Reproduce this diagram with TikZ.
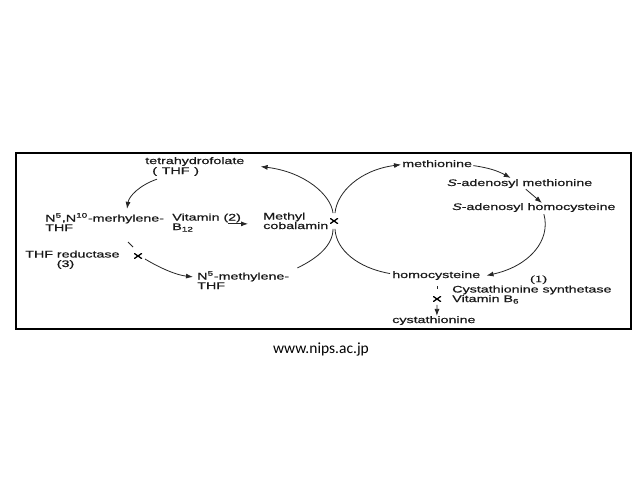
\documentclass[tikz,border=0pt]{standalone}
\usepackage{fontspec}
\setmainfont{Liberation Sans}
\newfontfamily\lbfam[FakeBold=0.5]{Liberation Sans}
\newfontfamily\serfont[FakeBold=0.5]{Liberation Serif}
\newfontfamily\urlfont{Carlito}
\usetikzlibrary{arrows.meta}
\newcommand\lbfont{\lbfam\fontsize{9.5}{9.5}\selectfont}

\begin{document}
\begin{tikzpicture}[x=1pt,y=-1pt,>={Latex[length=7pt,width=5pt]},
    lbl/.style={font=\lbfont, text=black!90, inner sep=0pt, anchor=base west, align=left, xscale=1.5},
    xmark/.style={minimum width=8pt, minimum height=5.5pt, inner sep=0pt,
        path picture={\draw[line width=1.3pt] (path picture bounding box.north west) -- (path picture bounding box.south east)
            (path picture bounding box.south west) -- (path picture bounding box.north east);}},
    conn/.style={black!85, line width=0.8pt}]
        \fill[white] (0,0) rectangle (638,479);
        \useasboundingbox (0,0) rectangle (638,479);
        \draw[line width=2.5pt] (16,153) rectangle (631,329);

        \node[lbl] (THF) at (145,164) {tetrahydrofolate};
        \node[lbl] (THFa) at (152,174) {(\,\,THF\,\,)};
        \node[lbl] (MTHF) at (45,231) {N\textsuperscript{5},N\textsuperscript{10}-merhylene-\\THF};
        \node[lbl] (VB) at (172,230) {Vitamin (2)\\B\textsubscript{12}};
        \node[lbl] (MC) at (263,229) {Methyl\\cobalamin};
        \node[xmark] (X1) at (334,221) {};
        \node[lbl] (RED) at (25,267) {THF reductase\\\hspace*{21pt}(3)};
        \node[xmark] (X2) at (138,256) {};
        \node[lbl] (N5) at (197,289) {N\textsuperscript{5}-methylene-\\THF};

        \node[lbl] (MET) at (402,167) {methionine};
        \node[lbl] (SAM) at (447,186) {\textit{S}-adenosyl methionine};
        \node[lbl] (SAH) at (452,210) {\textit{S}-adenosyl homocysteine};
        \node[lbl] (HCY) at (392,278) {homocysteine};
        \node[lbl, font=\serfont\fontsize{9.5}{9.5}\selectfont] (E1) at (530,282) {(1)};
        \node[lbl] (CBS) at (452,302) {Cystathionine synthetase\\Vitamin B\textsubscript{6}};
        \node[xmark] (X3) at (437,299) {};
        \node[lbl] (CYS) at (392,323) {cystathionine};

        \node[font=\urlfont\fontsize{15.5}{18}\selectfont, anchor=base] (WWW) at (321,353) {www.nips.ac.jp};

        \draw[conn,->] ([shift={(5,3)}]THFa.south west) .. controls (140,185) and (129,196) .. ([shift={(82,-4)}]MTHF.north west);
        \draw[conn] ([shift={(-10,-14)}]X2.center) -- ([shift={(-5,-9)}]X2.center);
        \draw[conn,->] ([shift={(7,3)}]X2.center) .. controls (160,268) and (176,275) .. ([shift={(-4,6)}]N5.north west);
        \draw[conn,->] ([shift={(-35,3)}]MC.west) -- ([shift={(-15,3)}]MC.west);
        \draw[conn,->] ([shift={(-1,-5)}]X1.north) .. controls (331,195) and (305,172) .. ([shift={(16,5)}]THF.east);
        \draw[conn,->] ([shift={(1,-5)}]X1.north) .. controls (337,192) and (360,170) .. ([shift={(-1,1)}]MET.west);
        \draw[conn] ([shift={(8,-3)}]N5.north east) .. controls (318,258) and (333,245) .. ([shift={(-1,5)}]X1.south);
        \draw[conn] ([shift={(1,5)}]X1.south) .. controls (336,250) and (358,268) .. ([shift={(-2,-2)}]HCY.west);

        \draw[conn,->] ([shift={(1,2)}]MET.east) to[bend left=10] ([shift={(-9,-1)}]SAM.north);
        \draw[conn,->] ([shift={(6,1)}]SAM.south) -- ([shift={(8,0)}]SAH.north);
        \draw[conn,->] ([shift={(10,2)}]SAH.south) .. controls (551,240) and (530,266) .. ([shift={(6,0)}]HCY.east);
        \draw[conn] ([shift={(0,-13)}]X3.center) -- ([shift={(0,-10)}]X3.center);
        \draw[conn,->] ([shift={(0,3)}]X3.south) -- ([shift={(3,0)}]CYS.north);
    \end{tikzpicture}
\end{document}
